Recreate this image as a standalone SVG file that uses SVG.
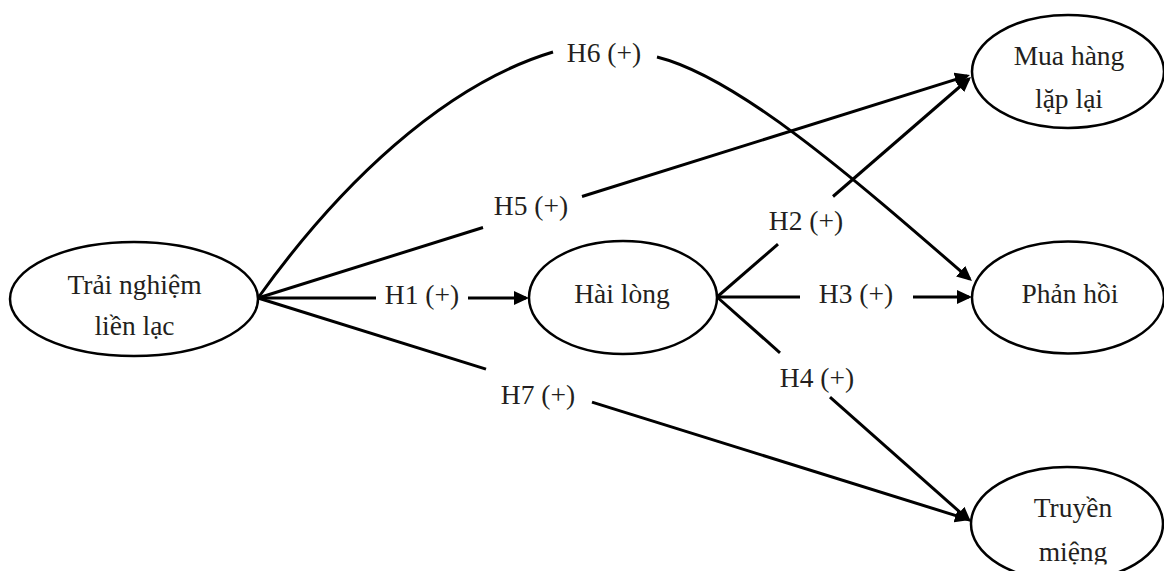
<svg xmlns="http://www.w3.org/2000/svg" width="1164" height="571" viewBox="0 0 1164 571">
<style>
.node{fill:#ffffff;stroke:#000000;stroke-width:2.5}
.lbl{font-family:"Liberation Serif","Times New Roman",serif;font-size:27.5px;fill:#231f20;text-anchor:middle}
.edge{fill:none;stroke:#000000;stroke-width:3}
</style>
<defs>
<marker id="arr" viewBox="0 0 15 14" refX="12" refY="7" markerWidth="15" markerHeight="14" markerUnits="userSpaceOnUse" orient="auto">
<path d="M0,0 L15,7 L0,14 z" fill="#000000"/>
</marker>
<clipPath id="clipBottom"><rect x="0" y="0" width="1164" height="564.5"/></clipPath>
</defs>
<rect x="0" y="0" width="1164" height="571" fill="#ffffff"/>
<g id="connectors">
<g id="e-h1">
<line class="edge" x1="258" y1="298" x2="376" y2="298"/>
<line class="edge" x1="468" y1="298" x2="526" y2="298" marker-end="url(#arr)"/>
<text class="lbl" x="422" y="304">H1 (+)</text>
</g>
<g id="e-h5">
<line class="edge" x1="258" y1="298" x2="483" y2="227.5"/>
<line class="edge" x1="582" y1="196.5" x2="967.1" y2="75.9" marker-end="url(#arr)"/>
<text class="lbl" x="531" y="215">H5 (+)</text>
</g>
<g id="e-h6">
<path class="edge" d="M258,298 C338,186 443,85 553,52"/>
<path class="edge" d="M657,57 C737,77 849.7,174.6 969.7,279" marker-end="url(#arr)"/>
<text class="lbl" x="604" y="62">H6 (+)</text>
</g>
<g id="e-h7">
<line class="edge" x1="258" y1="298" x2="486" y2="369.1"/>
<line class="edge" x1="592" y1="402.1" x2="967.1" y2="519.1" marker-end="url(#arr)"/>
<text class="lbl" x="538" y="404">H7 (+)</text>
</g>
<g id="e-h2">
<line class="edge" x1="717" y1="297" x2="778" y2="244.2"/>
<line class="edge" x1="833" y1="196.5" x2="968.7" y2="79" marker-end="url(#arr)"/>
<text class="lbl" x="806" y="230">H2 (+)</text>
</g>
<g id="e-h3">
<line class="edge" x1="717" y1="297" x2="800" y2="297"/>
<line class="edge" x1="913" y1="297" x2="969" y2="297" marker-end="url(#arr)"/>
<text class="lbl" x="856" y="303">H3 (+)</text>
</g>
<g id="e-h4">
<line class="edge" x1="717" y1="297" x2="780" y2="352.8"/>
<line class="edge" x1="830" y1="397.1" x2="968.8" y2="520" marker-end="url(#arr)"/>
<text class="lbl" x="817" y="387">H4 (+)</text>
</g>
</g>
<g id="n-trai-nghiem">
<ellipse class="node" cx="134" cy="299" rx="124" ry="57"/>
<text class="lbl" x="134.5" y="294">Trải nghiệm</text>
<text class="lbl" x="134.5" y="335">liền lạc</text>
</g>
<g id="n-hai-long">
<ellipse class="node" cx="623" cy="297.5" rx="94" ry="56.5"/>
<text class="lbl" x="622" y="303">Hài lòng</text>
</g>
<g id="n-mua-hang">
<ellipse class="node" cx="1068" cy="71.5" rx="96" ry="56.5"/>
<text class="lbl" x="1069" y="65">Mua hàng</text>
<text class="lbl" x="1069" y="108">lặp lại</text>
</g>
<g id="n-phan-hoi">
<ellipse class="node" cx="1068" cy="297.5" rx="96" ry="56"/>
<text class="lbl" x="1070" y="303">Phản hồi</text>
</g>
<g id="n-truyen-mieng">
<ellipse class="node" cx="1067" cy="524" rx="96" ry="57"/>
<text class="lbl" x="1073" y="517">Truyền</text>
<text class="lbl" x="1073" y="561" clip-path="url(#clipBottom)">miệng</text>
</g>
</svg>
